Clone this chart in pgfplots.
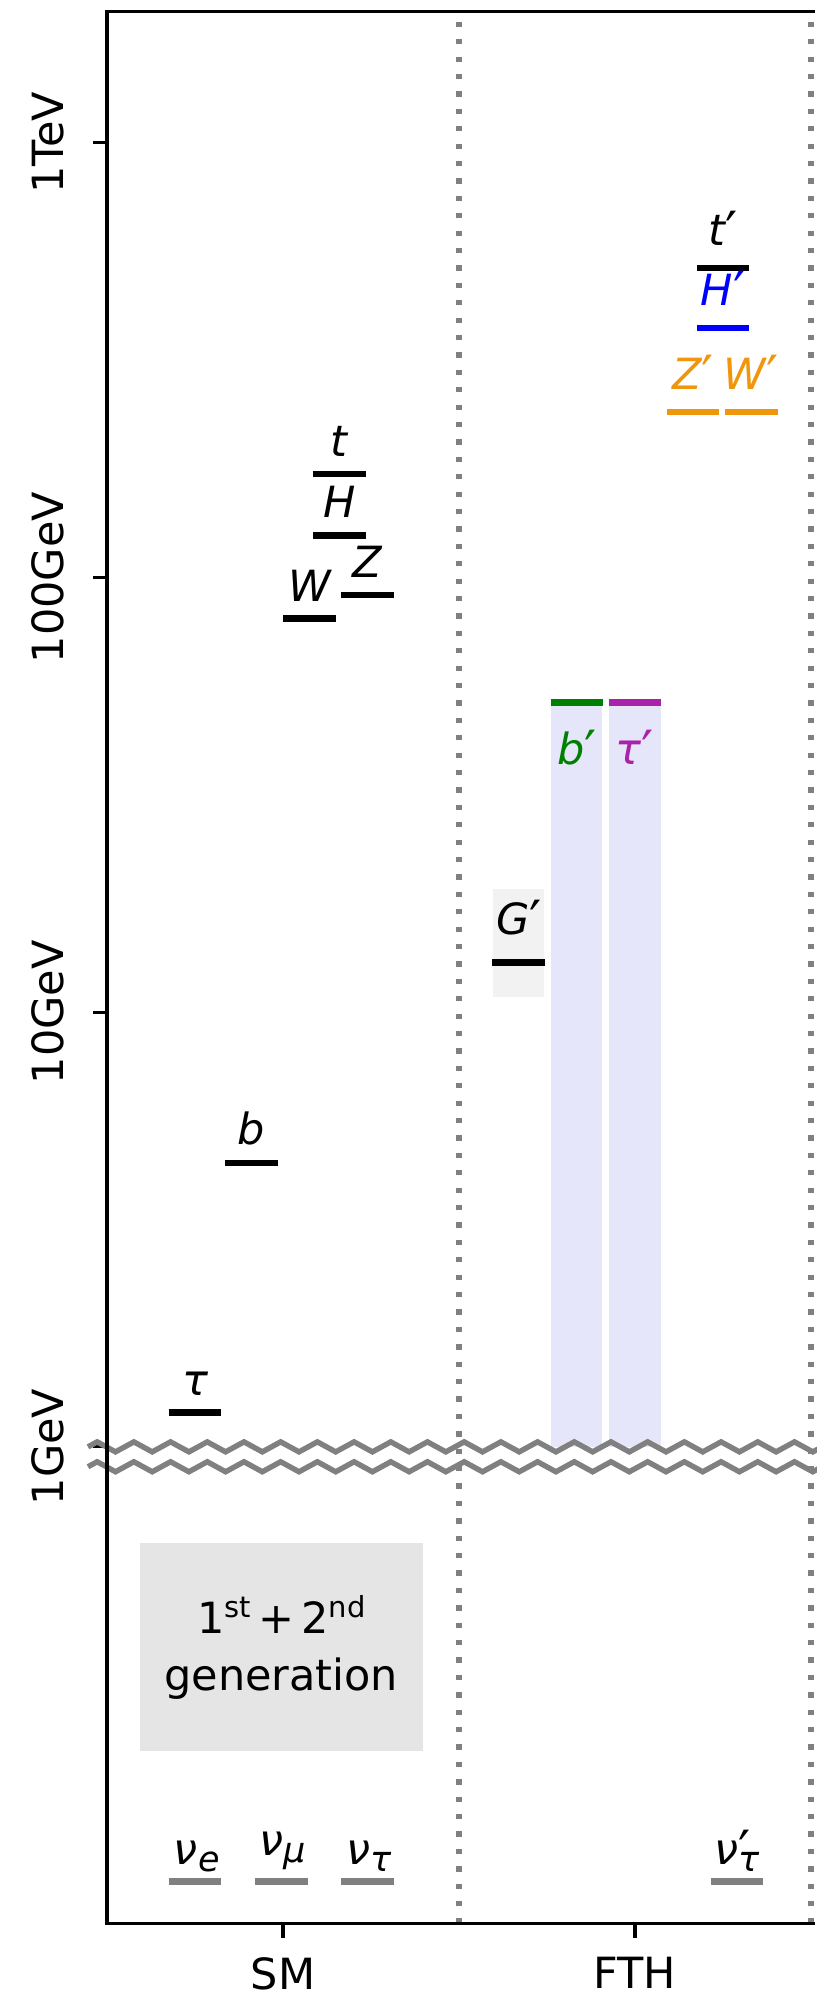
\documentclass[border=0pt]{standalone}
\usepackage{fontspec}
\setmainfont{DejaVu Sans}[ItalicFont=DejaVu Sans Oblique]
\usepackage{pgfplots}
\pgfplotsset{compat=1.18}
\usetikzlibrary{decorations.pathmorphing}

\definecolor{lav}{RGB}{230,230,250}
\definecolor{genbox}{RGB}{229,229,229}
\definecolor{gpbox}{RGB}{242,242,242}
\definecolor{vorange}{RGB}{240,150,10}
\definecolor{taup}{RGB}{170,34,170}
\definecolor{bgreen}{RGB}{0,128,0}
\definecolor{hblue}{RGB}{0,0,255}
\definecolor{midgray}{RGB}{128,128,128}

\newcommand\fs{\fontsize{21.5}{26}\selectfont}
\newcommand\pr{\raisebox{-2.5pt}{\fontsize{27}{27}\selectfont\upshape ′}}
\newcommand\sub[1]{\raisebox{-3.5pt}{\fontsize{17.5}{17.5}\selectfont #1}}
\newcommand\sups[1]{\raisebox{8pt}{\fontsize{14.5}{14.5}\selectfont #1}}

\tikzset{
  lvl/.style={line width=3.3pt},
  lbl/.style={font=\fs\itshape, inner sep=0pt, anchor=south, yshift=8.5pt},
  nulbl/.style={font=\fs\itshape, inner sep=0pt, anchor=base, yshift=8.5pt},
}

\begin{document}
\begin{tikzpicture}
\begin{axis}[
  name=ax, scale only axis, width=353.76pt, height=955.9pt,
  xmin=-0.5, xmax=1.51, ymode=log, ymin=0.08, ymax=2000,
  axis line style={draw=none},
  clip=false,
  xtick={0,1}, xticklabels={SM,FTH},
  ytick={1,10,100,1000}, yticklabels={1GeV,10GeV,100GeV,1TeV},
  yminorticks=false, xminorticks=false,
  xtick pos=left, ytick pos=left, tick align=outside,
  major tick length=7pt,
  tick style={black, line width=1.6pt},
  tick label style={font=\fs, inner sep=0pt},
  xticklabel style={anchor=north},
  yticklabel style={rotate=90, anchor=south},
  xticklabel shift=9.65pt, yticklabel shift=14pt,
]
% shaded regions
\addplot[fill=genbox, draw=none, forget plot] coordinates {(-0.407,0.2) (0.398,0.2) (0.398,0.6) (-0.407,0.6)} -- cycle;
\addplot[fill=gpbox, draw=none, forget plot] coordinates {(0.5975,10.85) (0.7425,10.85) (0.7425,19.2) (0.5975,19.2)} -- cycle;
\addplot[fill=lav, draw=none, forget plot] coordinates {(0.7625,1) (0.9075,1) (0.9075,51.5) (0.7625,51.5)} -- cycle;
\addplot[fill=lav, draw=none, forget plot] coordinates {(0.9275,1) (1.0725,1) (1.0725,51.5) (0.9275,51.5)} -- cycle;

% SM levels
\addplot[black, lvl] coordinates {(-0.325,1.2) (-0.175,1.2)};
\addplot[black, lvl] coordinates {(-0.165,4.5) (-0.015,4.5)};
\addplot[black, lvl] coordinates {(0.0,80.4) (0.15,80.4)};
\addplot[black, lvl] coordinates {(0.085,173) (0.235,173)};
\addplot[black, lvl] coordinates {(0.085,125) (0.235,125)};
\addplot[black, lvl] coordinates {(0.165,91.2) (0.315,91.2)};
\addplot[midgray, lvl] coordinates {(-0.325,0.1) (-0.175,0.1)};
\addplot[midgray, lvl] coordinates {(-0.08,0.1) (0.07,0.1)};
\addplot[midgray, lvl] coordinates {(0.165,0.1) (0.315,0.1)};

% twin sector levels
\addplot[black, lvl] coordinates {(0.595,13) (0.745,13)};
\addplot[bgreen, lvl] coordinates {(0.76,51.5) (0.91,51.5)};
\addplot[taup, lvl] coordinates {(0.925,51.5) (1.075,51.5)};
\addplot[vorange, lvl] coordinates {(1.09,240) (1.24,240)};
\addplot[vorange, lvl] coordinates {(1.255,240) (1.405,240)};
\addplot[black, lvl] coordinates {(1.175,515) (1.325,515)};
\addplot[hblue, lvl] coordinates {(1.175,375) (1.325,375)};
\addplot[midgray, lvl] coordinates {(1.215,0.1) (1.365,0.1)};

% sector separators
\addplot[midgray, line width=2.65pt, dash pattern=on 2.65pt off 6.05pt] coordinates {(0.5,0.08) (0.5,2000)};
\addplot[midgray, line width=2.65pt, dash pattern=on 2.65pt off 6.05pt] coordinates {(1.5,0.08) (1.5,2000)};

% axis break
\draw[midgray, line width=2.7pt, decorate, decoration={zigzag, segment length=18.35pt, amplitude=2.5pt}] (axis cs:-0.554,1) -- (axis cs:1.58,1);
\draw[midgray, line width=2.7pt, decorate, decoration={zigzag, segment length=18.35pt, amplitude=2.5pt}] (axis cs:-0.554,0.9) -- (axis cs:1.58,0.9);

% spines
\draw[black, line width=1.6pt] (rel axis cs:1,1) -- (rel axis cs:0,1) -- (rel axis cs:0,0) -- (rel axis cs:1,0);

% labels
\node[lbl] at (axis cs:-0.25,1.2) {τ};
\node[lbl] at (axis cs:-0.09,4.5) {b};
\node[lbl] at (axis cs:0.075,80.4) {W};
\node[lbl] at (axis cs:0.16,173) {t};
\node[lbl] at (axis cs:0.16,125) {H};
\node[lbl] at (axis cs:0.24,91.2) {Z};
\node[nulbl] at (axis cs:-0.245,0.1) {ν\sub{e}};
\node[nulbl, yshift=4.3pt] at (axis cs:0.0,0.1) {ν\sub{μ}};
\node[nulbl] at (axis cs:0.245,0.1) {ν\sub{τ}};
\node[lbl, yshift=3pt] at (axis cs:0.67,13) {G\pr};
\node[lbl, anchor=north, yshift=-22pt, text=bgreen] at (axis cs:0.835,51.5) {b\pr};
\node[lbl, anchor=north, yshift=-22pt, text=taup] at (axis cs:1.0,51.5) {τ\pr};
\node[lbl, text=vorange] at (axis cs:1.165,240) {Z\pr};
\node[lbl, text=vorange] at (axis cs:1.33,240) {W\pr};
\node[lbl] at (axis cs:1.25,515) {t\pr};
\node[lbl, text=hblue] at (axis cs:1.25,375) {H\pr};
\node[nulbl] at (axis cs:1.29,0.1) {ν\rlap{\pr}\sub{τ}};
\node[font=\fontsize{21.5}{28.5}\selectfont, align=center, inner sep=0pt] at (axis cs:-0.005,0.345) {1\sups{st}\,+\,2\sups{nd}\\generation};
\end{axis}
\pgfresetboundingbox
\path[use as bounding box] ([shift={(-53.5pt,-36.65pt)}]ax.south west) rectangle ([shift={(354.5pt,961.85pt)}]ax.south west);
\end{tikzpicture}
\end{document}
